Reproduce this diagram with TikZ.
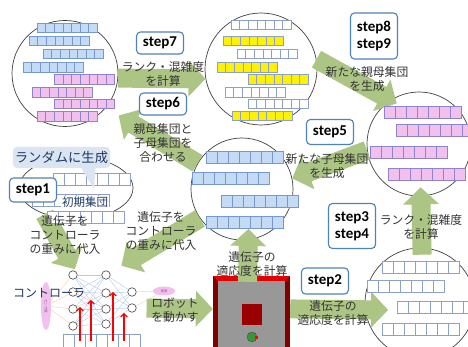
\documentclass[tikz,border=0pt]{standalone}
\usepackage{fontspec}
\setmainfont{Carlito}
\newfontfamily\jpfont{Noto Sans CJK JP}
\usetikzlibrary{arrows.meta,calc,shapes.geometric}
\definecolor{ArrowClr}{RGB}{172,197,132}
\definecolor{StepClr}{RGB}{79,129,189}
\definecolor{NavyClr}{RGB}{31,56,100}
\definecolor{BubbleClr}{RGB}{219,229,241}
\definecolor{BlueFill}{RGB}{197,218,244}
\definecolor{BlueLine}{RGB}{118,152,204}
\definecolor{PinkFill}{RGB}{242,192,236}
\definecolor{PinkLine}{RGB}{140,132,204}
\definecolor{GrayLine}{RGB}{140,160,200}
\definecolor{WireClr}{RGB}{184,202,232}
\definecolor{PeachClr}{RGB}{248,206,178}
\definecolor{FrameClr}{RGB}{128,0,0}
\definecolor{RimClr}{RGB}{228,0,0}
\definecolor{FloorClr}{RGB}{152,152,152}
\definecolor{BlockClr}{RGB}{153,0,0}
\definecolor{RobotClr}{RGB}{56,150,56}

\newcommand\GArrow[4]{%
  \coordinate (gt) at ($(#1)!#3!(#2)$);
  \coordinate (gp) at ($(#2)!#4!(#1)$);
  \coordinate (gh) at ($(gp)!17pt!(gt)$);
  \fill[garrow] ($(gt)!9.5pt!90:(gp)$) -- ($(gh)!9.5pt!-90:(gt)$) -- ($(gh)!18pt!-90:(gt)$)
    -- (gp) -- ($(gh)!18pt!90:(gt)$) -- ($(gh)!9.5pt!90:(gt)$) -- ($(gt)!9.5pt!-90:(gp)$) -- cycle;}
\newcommand\Genes[5]{\foreach \k in {0,...,6} \draw[#1] ({#2+\k*#4},#3) rectangle ++(#4,#5);}

\begin{document}
\begin{tikzpicture}[x=1pt,y=-1pt,
  pop/.style={circle,draw=black!75,line width=.7pt,inner sep=0pt},
  garrow/.style={fill=ArrowClr},
  bluegene/.style={fill=BlueFill,draw=BlueLine,line width=.5pt},
  pinkgene/.style={fill=PinkFill,draw=PinkLine,line width=.5pt},
  yellowgene/.style={fill=yellow,draw=GrayLine,line width=.5pt},
  whitegene/.style={fill=white,draw=GrayLine,line width=.5pt},
  stepbox/.style={draw=StepClr,line width=1.1pt,fill=white,rounded corners=4pt,minimum width=47pt,
    minimum height=22pt,inner sep=2.5pt,align=center,font=\bfseries\fontsize{15}{17}\selectfont},
  lbl/.style={inner sep=0pt,align=center,text=black!80,font=\jpfont\fontsize{11.8}{13.6}\selectfont},
  unit/.style={circle,draw=black!75,fill=white,line width=.6pt,minimum size=8.5pt,inner sep=0pt},
  wire/.style={draw=WireClr,line width=.4pt},
  feed/.style={draw=PeachClr,line width=.4pt},
  wtarrow/.style={draw=red,line width=1.3pt,-{Straight Barb[length=3pt,width=6.5pt]}}]

\fill[white] (0,0) rectangle (468,347);
\useasboundingbox (0,0) rectangle (468,347);
\clip (0,0) rectangle (468,347);

\node[pop,minimum size=106pt] (pop1) at (65,73.5) {};
\node[pop,minimum size=112pt] (pop2) at (261,69) {};
\node[pop,minimum size=104pt] (pop3) at (419,144) {};
\node[pop,minimum size=102pt] (pop4) at (242,189) {};
\node[pop,minimum size=110pt] (pop5) at (420,303) {};
\node[ellipse,draw=black!75,line width=.7pt,minimum width=114pt,minimum height=62pt,inner sep=0pt] (init) at (76,188) {};

\foreach \y [count=\n] in {275,292,309,326} \node[unit] (i\n) at (73,\y) {};
\foreach \y [count=\n] in {275,293,309,324} \node[unit] (h\n) at (106,\y) {};
\foreach \y [count=\n] in {292,308} \node[unit] (o\n) at (132,\y) {};

\node[fill=FrameClr,minimum width=77pt,minimum height=74pt,inner sep=0pt] (arena) at (251.5,313) {};
\fill[RimClr] (213,276) -- (290,276) -- (285,281) -- (218,281) -- cycle;
\fill[FloorClr] (218,281) rectangle (285,352);
\fill[BlockClr] (242,304) rectangle (262,325);
\draw[black!70,fill=RobotClr] (252,337) circle[radius=5pt];
\fill[red] (255,335.5) rectangle (258,338.5);

\GArrow{pop1.-5}{pop2.190}{0pt}{0pt}
\GArrow{pop2.10}{pop3.123}{0pt}{-7pt}
\GArrow{pop3.187}{pop4.12}{0pt}{0pt}
\GArrow{pop4.150}{pop1.-40}{0pt}{15pt}
\GArrow{pop4.215}{h1}{0pt}{18pt}
\GArrow{init.220}{i1.north east}{0pt}{3pt}
\GArrow{o2.east}{arena.174}{10pt}{0pt}
\GArrow{arena.96}{pop4.-83}{-6pt}{-11pt}
\GArrow{arena.6}{pop5.187}{0pt}{-23pt}
\GArrow{pop5.88}{pop3.-88}{-7pt}{-9pt}

\Genes{bluegene}{37}{23}{8.6}{9.5}
\Genes{bluegene}{29}{36}{8.6}{9.5}
\Genes{bluegene}{43}{49}{8.6}{9.5}
\Genes{bluegene}{23}{62.5}{8.6}{9.5}
\Genes{pinkgene}{54.5}{74.5}{8.6}{9.5}
\Genes{pinkgene}{32}{87.5}{8.6}{9.5}
\Genes{pinkgene}{54.5}{99}{8.6}{9.5}
\Genes{pinkgene}{37}{111.5}{8.6}{9.5}

\Genes{whitegene}{231}{20}{8.6}{9.5}
\Genes{yellowgene}{223}{36}{8.6}{9.5}
\Genes{whitegene}{237}{49}{8.6}{9.5}
\Genes{yellowgene}{217}{62.5}{8.6}{9.5}
\Genes{yellowgene}{248}{74.5}{8.6}{9.5}
\Genes{whitegene}{225}{87.5}{8.6}{9.5}
\Genes{whitegene}{248}{99}{8.6}{9.5}
\Genes{yellowgene}{232}{111}{8.6}{9.5}

\Genes{pinkgene}{384}{106}{11}{12}
\Genes{pinkgene}{396}{124.5}{11}{12}
\Genes{pinkgene}{370}{146}{11}{12}
\Genes{pinkgene}{388}{168.5}{11}{12}

\Genes{bluegene}{206}{151}{11}{12}
\Genes{bluegene}{192}{172.5}{11}{12}
\Genes{bluegene}{221}{195}{11}{12}
\Genes{bluegene}{206}{216.5}{11}{12}

\Genes{whitegene}{382}{261}{11}{12}
\Genes{whitegene}{367}{280}{11}{12}
\Genes{whitegene}{397}{301.5}{11}{12}
\Genes{whitegene}{382}{323}{11}{12}

\Genes{whitegene}{53}{173}{11}{12}
\Genes{whitegene}{32}{194}{11}{12}
\Genes{whitegene}{47}{211.5}{11}{12}

\node[fill=BubbleClr,rounded corners=4pt,minimum width=97pt,minimum height=21pt,inner sep=2pt,
  text=NavyClr,font=\jpfont\fontsize{13.3}{15}\selectfont] (rnd) at (61.5,157.5) {ランダムに生成};
\coordinate (rndtip) at (94,189);
\fill[BubbleClr] ([xshift=20pt]rnd.south) -- ([xshift=34pt]rnd.south) -- (rndtip) -- cycle;
\node[fill=white,inner sep=1pt,text=NavyClr,font=\jpfont\fontsize{11.5}{13}\selectfont] (initlbl) at (85,202) {初期集団};

\node[lbl] (rank7) at (163,74) {ランク・混雑度\\を計算};
\node[lbl] (newpar) at (367,79) {新たな親母集団\\を生成};
\node[lbl] (merge) at (163,143) {親母集団と\\子母集団を\\合わせる};
\node[lbl] (newchild) at (327,166) {新たな子母集団\\を生成};
\node[lbl] (rank34) at (421,227) {ランク・混雑度\\を計算};
\node[lbl] (load1) at (65,235) {遺伝子を\\コントローラ\\の重みに代入};
\node[lbl] (load2) at (161,231) {遺伝子を\\コントローラ\\の重みに代入};
\node[lbl] (drive) at (175,310) {ロボット\\を動かす};
\node[lbl] (fit1) at (252,264) {遺伝子の\\適応度を計算};
\node[lbl] (fit2) at (333,313) {遺伝子の\\適応度を計算};

\node[stepbox] (s7) at (160,43) {step7};
\node[stepbox] (s6) at (163,104) {step6};
\node[stepbox,minimum height=46pt] (s89) at (374,36) {step8\\step9};
\node[stepbox,minimum height=25pt] (s5) at (330,132) {step5};
\node[stepbox,minimum height=45pt] (s34) at (352,226) {step3\\step4};
\node[stepbox,minimum height=26pt] (s2) at (325,281) {step2};
\node[stepbox,minimum height=24pt] (s1) at (33,190) {step1};

\node[ellipse,rotate=-90,fill=PinkFill,minimum width=48pt,minimum height=10pt,inner sep=0pt,
  text=violet!70,font=\jpfont\fontsize{3.5}{4}\selectfont] (sens) at (46,306) {センサ値};
\node[ellipse,fill=PinkFill,minimum width=22pt,minimum height=9pt,inner sep=0pt,
  text=violet!70,font=\jpfont\fontsize{3.5}{4}\selectfont] (act) at (164,291) {速度};
\foreach \a in {1,...,4} {
  \draw[feed] (sens) -- (i\a);
  \foreach \b in {1,...,4} \draw[wire] (i\a) -- (h\b);
  \foreach \b in {1,2} \draw[wire] (h\a) -- (o\b);
}
\foreach \b in {1,2} \draw[feed] (o\b) -- (act);

\foreach \k in {1,...,7} \node[draw=GrayLine,fill=white,line width=.5pt,minimum width=11pt,minimum height=13pt,inner sep=0pt] (c\k) at ({58+11*\k},340.5) {};
\coordinate (w1) at (80,307);
\coordinate (w2) at (91,300);
\coordinate (w3) at (113,292);
\coordinate (w4) at (124,313);
\draw[wtarrow] (c2.center) -- (w1);
\draw[wtarrow] (c3.center) -- (w2);
\draw[wtarrow] (c5.center) -- (w3);
\draw[wtarrow] (c6.center) -- (w4);

\node[inner sep=0pt,text=NavyClr,font=\jpfont\fontsize{12}{14}\selectfont] (ctrl) at (49,293) {コントローラ};

\end{tikzpicture}
\end{document}
